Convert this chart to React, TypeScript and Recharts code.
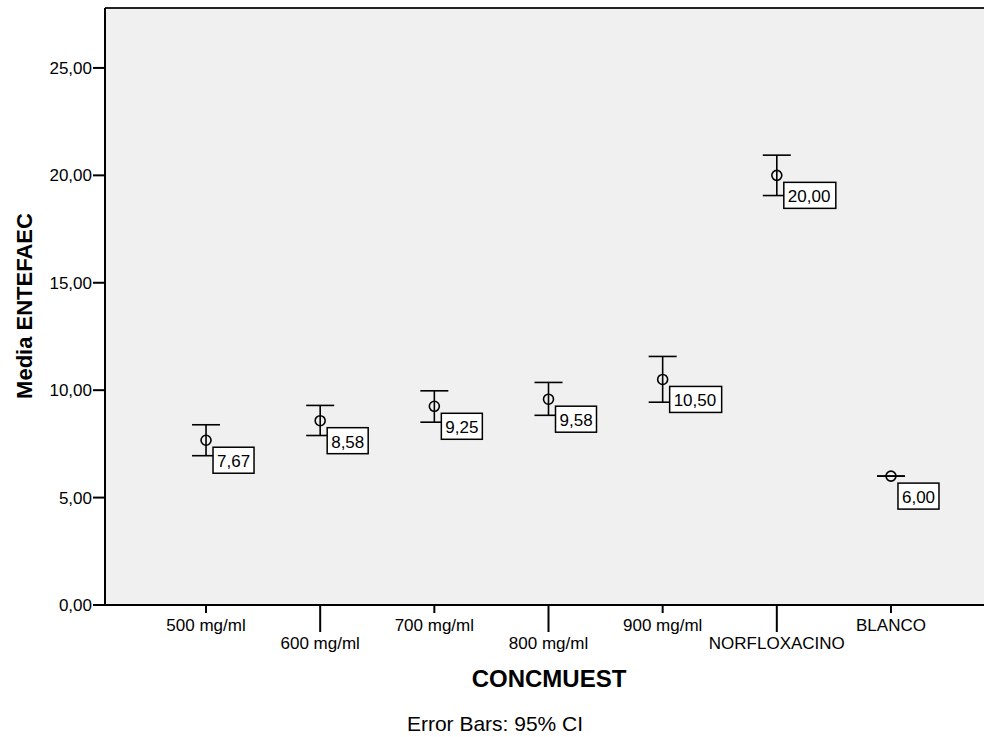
import React from 'react';
import {
  ComposedChart,
  Scatter,
  XAxis,
  YAxis,
  ErrorBar,
  CartesianGrid,
  ReferenceLine,
} from 'recharts';

// Sample concentrations / treatments
const categories = ['500 mg/ml', '600 mg/ml', '700 mg/ml', '800 mg/ml', '900 mg/ml', 'NORFLOXACINO', 'BLANCO'];
// Mean ENTEFAEC per group
const means = [7.67, 8.58, 9.25, 9.58, 10.5, 20.0, 6.0];
// 95% confidence interval bounds
const ciLower = [6.95, 7.89, 8.51, 8.83, 9.44, 19.06, 6.0];
const ciUpper = [8.39, 9.29, 9.97, 10.36, 11.57, 20.94, 6.0];
// Value-axis ticks
const yTicks = [0, 5, 10, 15, 20, 25];

const Y_MAX = 27.79;
const FONT = '"Liberation Sans", Arial, Helvetica, sans-serif';

const fmt = (v: number) => v.toFixed(2).replace('.', ',');

const rows = categories.map((name, i) => ({
  x: i,
  name,
  mean: means[i],
  ci: [means[i] - ciLower[i], ciUpper[i] - means[i]],
}));

const XTick = (props: any) => {
  const { x, y, payload } = props;
  const i = payload.value as number;
  const odd = i % 2 === 1;
  return (
    <g>
      <line x1={x} x2={x} y1={y} y2={y + (odd ? 27 : 8)} stroke="#000" strokeWidth={2} />
      <text
        x={x}
        y={y + (odd ? 44 : 26)}
        textAnchor="middle"
        fontFamily={FONT}
        fontSize={17}
        fill="#000"
      >
        {categories[i]}
      </text>
    </g>
  );
};

// Value box drawn at the lower right of each mean marker
const ValueBox = (props: any) => {
  const { cx, cy, payload } = props;
  const label = fmt(payload.mean);
  const w = label.length * 11 - 3;
  return (
    <g>
      <rect x={cx + 7} y={cy + 7} width={w} height={26} fill="#fff" stroke="#000" strokeWidth={1.5} />
      <text x={cx + 11} y={cy + 27} fontFamily={FONT} fontSize={17} fill="#000">
        {label}
      </text>
    </g>
  );
};

const MeanMarker = (props: any) => {
  const { cx, cy } = props;
  return <circle cx={cx} cy={cy} r={5} fill="none" stroke="#000" strokeWidth={1.6} />;
};

export default function App() {
  return (
    <div style={{ position: 'absolute', left: 0, top: 0, width: 984, height: 737, overflow: 'hidden', background: '#fff' }}>
      <ComposedChart
        width={1000}
        height={737}
        margin={{ top: 8, right: 8, bottom: 0, left: 0 }}
      >
        <CartesianGrid horizontal={false} vertical={false} fill="#F0F0F0" />
        <XAxis
          type="number"
          dataKey="x"
          domain={[-0.885, 6.885]}
          ticks={[0, 1, 2, 3, 4, 5, 6]}
          allowDataOverflow
          height={132}
          tickSize={0}
          tickMargin={0}
          tickLine={false}
          axisLine={{ stroke: '#000', strokeWidth: 2 }}
          tick={<XTick />}
          interval={0}
        />
        <YAxis
          type="number"
          dataKey="mean"
          domain={[0, Y_MAX]}
          ticks={yTicks}
          allowDataOverflow
          width={105}
          tickSize={12}
          tickMargin={1}
          tickFormatter={fmt}
          tick={{ fontSize: 17, fontFamily: FONT, fill: '#000' }}
          tickLine={{ stroke: '#000', strokeWidth: 2 }}
          axisLine={{ stroke: '#000', strokeWidth: 2 }}
        />
        <ReferenceLine y={Y_MAX} stroke="#222" strokeWidth={2} ifOverflow="visible" />
        <Scatter data={rows} dataKey="mean" shape={<ValueBox />} isAnimationActive={false} />
        <Scatter data={rows} dataKey="mean" shape={<MeanMarker />} isAnimationActive={false}>
          <ErrorBar dataKey="ci" direction="y" width={14} stroke="#000" strokeWidth={1.6} isAnimationActive={false} />
        </Scatter>
        <text
          x={24}
          y={306}
          transform="rotate(-90 24 306)"
          textAnchor="middle"
          dominantBaseline="central"
          fontFamily={FONT}
          fontWeight="bold"
          fontSize={22}
          fill="#000"
        >
          Media ENTEFAEC
        </text>
        <text x={549} y={687} textAnchor="middle" fontFamily={FONT} fontWeight="bold" fontSize={24} fill="#000">
          CONCMUEST
        </text>
        <text x={495} y={731} textAnchor="middle" fontFamily={FONT} fontSize={21} fill="#000">
          Error Bars: 95% CI
        </text>
      </ComposedChart>
    </div>
  );
}
